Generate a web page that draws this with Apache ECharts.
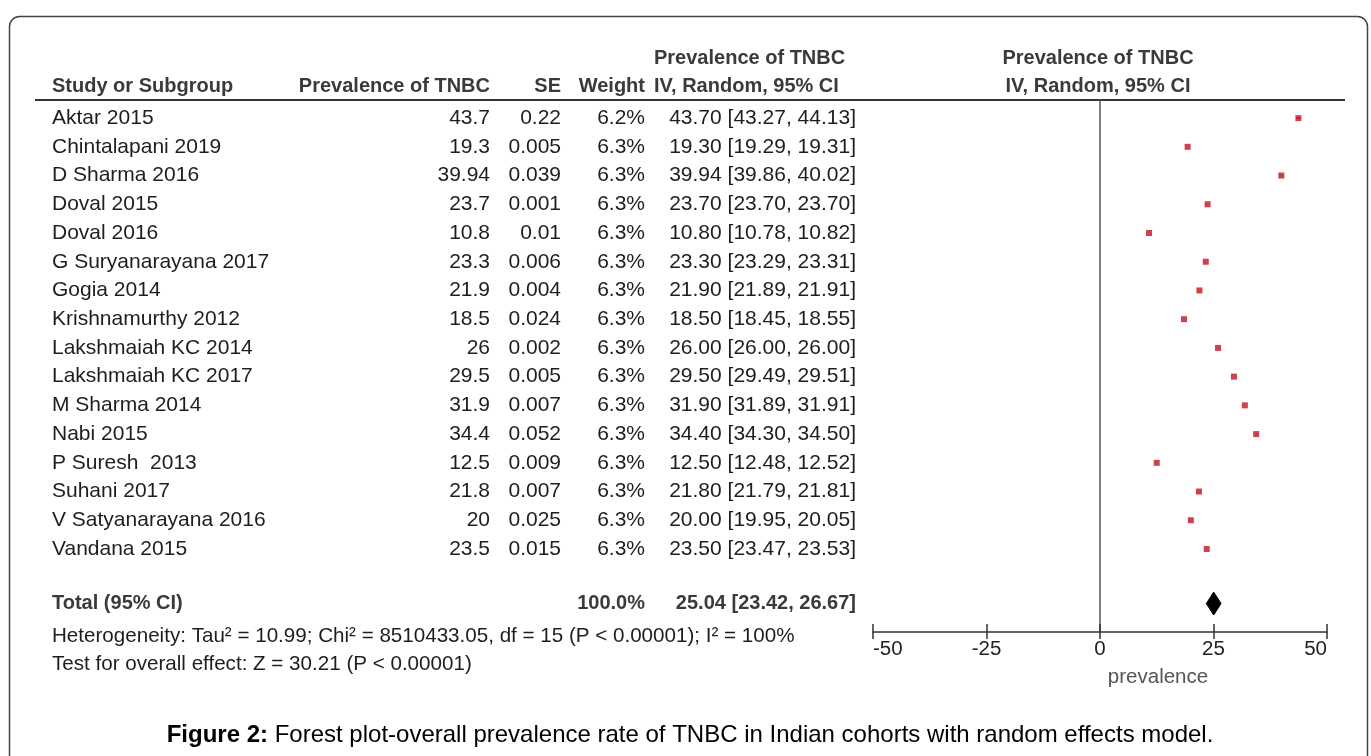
<!DOCTYPE html>
<html>
<head>
<meta charset="utf-8">
<script src="https://cdn.jsdelivr.net/npm/echarts@6/dist/echarts.min.js"></script>
<style>
  html, body { margin: 0; padding: 0; background: #fff; }
  #chart { width: 1371px; height: 756px; }
</style>
</head>
<body>
<div id="chart"></div>
<script>
// Study-level data for the forest plot
const studies = [
  'Aktar 2015', 'Chintalapani 2019', 'D Sharma 2016', 'Doval 2015', 'Doval 2016',
  'G Suryanarayana 2017', 'Gogia 2014', 'Krishnamurthy 2012', 'Lakshmaiah KC 2014',
  'Lakshmaiah KC 2017', 'M Sharma 2014', 'Nabi 2015', 'P Suresh  2013', 'Suhani 2017',
  'V Satyanarayana 2016', 'Vandana 2015'
];
const prevalence = [43.7, 19.3, 39.94, 23.7, 10.8, 23.3, 21.9, 18.5, 26, 29.5, 31.9, 34.4, 12.5, 21.8, 20, 23.5];
const se = ['0.22', '0.005', '0.039', '0.001', '0.01', '0.006', '0.004', '0.024', '0.002', '0.005', '0.007', '0.052', '0.009', '0.007', '0.025', '0.015'];
const weight = [6.2, 6.3, 6.3, 6.3, 6.3, 6.3, 6.3, 6.3, 6.3, 6.3, 6.3, 6.3, 6.3, 6.3, 6.3, 6.3];
const ciLow = [43.27, 19.29, 39.86, 23.70, 10.78, 23.29, 21.89, 18.45, 26.00, 29.49, 31.89, 34.30, 12.48, 21.79, 19.95, 23.47];
const ciHigh = [44.13, 19.31, 40.02, 23.70, 10.82, 23.31, 21.91, 18.55, 26.00, 29.51, 31.91, 34.50, 12.52, 21.81, 20.05, 23.53];

// Pooled (random effects) estimate
const totalWeight = 100.0;
const totalEst = 25.04;
const totalLow = 23.42;
const totalHigh = 26.67;

// Heterogeneity and overall effect statistics
const tau2 = '10.99';
const chi2 = '8510433.05';
const dfVal = 15;
const i2 = 100;
const zVal = '30.21';

// Axis settings
const axisMin = -50, axisMax = 50, axisStep = 25;
const axisName = 'prevalence';

// Layout
const TOTAL_ROW = 16.9;
const FONT = '"Liberation Sans", Arial, Helvetica, sans-serif';
const RED = '#c0141c';
const GRID = { left: 873, right: 44, top: 100, bottom: 124 };
const COL = { name: 52, prev: 490, se: 561, weight: 645, ci: 856, ciHead: 654, plotHead: 1098 };

const chart = echarts.init(document.getElementById('chart'), null, { renderer: 'canvas' });

const xAxisBase = {
  type: 'value', min: axisMin, max: axisMax, interval: axisStep,
  position: 'bottom', splitLine: { show: false }
};

chart.setOption({
  animation: false,
  backgroundColor: '#fff',
  grid: Object.assign({ containLabel: false }, GRID),
  xAxis: [
    Object.assign({}, xAxisBase, {
      axisLine: { show: true, onZero: false, lineStyle: { color: '#333', width: 1.5 } },
      axisTick: { show: true, inside: false, length: 7, lineStyle: { color: '#333', width: 1.5 } },
      axisLabel: {
        show: true, margin: 7, color: '#222', fontSize: 20.5, fontFamily: FONT,
        alignMinLabel: 'left', alignMaxLabel: 'right'
      }
    }),
    Object.assign({}, xAxisBase, {
      axisLine: { show: false, onZero: false },
      axisTick: { show: true, inside: true, length: 8, lineStyle: { color: '#333', width: 1.5 } },
      axisLabel: { show: false }
    })
  ],
  yAxis: {
    type: 'value', inverse: true, min: -0.63, max: 17.89,
    axisLine: { show: true, onZero: true, lineStyle: { color: '#555', width: 1.5 } },
    axisTick: { show: false }, axisLabel: { show: false }, splitLine: { show: false }
  },
  series: [
    {
      // confidence interval whiskers
      type: 'custom',
      data: studies.map((s, i) => [ciLow[i], ciHigh[i], i]),
      renderItem: function (params, api) {
        const a = api.coord([api.value(0), api.value(2)]);
        const b = api.coord([api.value(1), api.value(2)]);
        return { type: 'line', shape: { x1: a[0], y1: a[1], x2: b[0], y2: b[1] },
                 style: { stroke: RED, lineWidth: 1.5 } };
      },
      z: 2
    },
    {
      // point estimates
      type: 'scatter',
      symbol: 'rect',
      symbolSize: 6,
      itemStyle: { color: RED },
      data: studies.map((s, i) => [prevalence[i], i]),
      z: 3
    },
    {
      // pooled estimate diamond
      type: 'custom',
      data: [[totalLow, totalEst, totalHigh, TOTAL_ROW]],
      renderItem: function (params, api) {
        const row = api.value(3);
        const l = api.coord([api.value(0), row]);
        const c = api.coord([api.value(1), row]);
        const r = api.coord([api.value(2), row]);
        const h = 11.5;
        return { type: 'polygon',
                 shape: { points: [[l[0], l[1]], [c[0], c[1] - h], [r[0], r[1]], [c[0], c[1] + h]] },
                 style: { fill: '#000', stroke: '#000', lineWidth: 1 } };
      },
      z: 3
    }
  ]
});

function rowY(i) {
  return chart.convertToPixel({ gridIndex: 0 }, [0, i])[1];
}

function txt(x, y, text, opts) {
  opts = opts || {};
  return {
    type: 'text', x: x, y: y, silent: true,
    style: {
      text: text,
      fontFamily: FONT,
      fontSize: opts.size || 21,
      fontWeight: opts.bold ? 'bold' : 'normal',
      fill: opts.color || '#1e1e1e',
      align: opts.align || 'left',
      verticalAlign: 'middle'
    }
  };
}

const HEAD = { bold: true, size: 20, color: '#3a3a3a' };
const g = [];

// frame and header rule
g.push({ type: 'rect', silent: true,
  shape: { x: 9.5, y: 16.5, width: 1358, height: 790, r: 10 },
  style: { fill: 'none', stroke: '#444', lineWidth: 1.5 } });
g.push({ type: 'line', silent: true,
  shape: { x1: 35, y1: 100, x2: 1345, y2: 100 },
  style: { stroke: '#333', lineWidth: 2 } });

// column headers
g.push(txt(COL.name, 86, 'Study or Subgroup', HEAD));
g.push(txt(COL.prev, 86, 'Prevalence of TNBC', Object.assign({ align: 'right' }, HEAD)));
g.push(txt(COL.se, 86, 'SE', Object.assign({ align: 'right' }, HEAD)));
g.push(txt(COL.weight, 86, 'Weight', Object.assign({ align: 'right' }, HEAD)));
g.push(txt(COL.ciHead, 58, 'Prevalence of TNBC', HEAD));
g.push(txt(COL.ciHead, 86, 'IV, Random, 95% CI', HEAD));
g.push(txt(COL.plotHead, 58, 'Prevalence of TNBC', Object.assign({ align: 'center' }, HEAD)));
g.push(txt(COL.plotHead, 86, 'IV, Random, 95% CI', Object.assign({ align: 'center' }, HEAD)));

// study rows
studies.forEach(function (s, i) {
  const y = rowY(i);
  g.push(txt(COL.name, y, s));
  g.push(txt(COL.prev, y, String(prevalence[i]), { align: 'right' }));
  g.push(txt(COL.se, y, se[i], { align: 'right' }));
  g.push(txt(COL.weight, y, weight[i].toFixed(1) + '%', { align: 'right' }));
  g.push(txt(COL.ci, y, prevalence[i].toFixed(2) + ' [' + ciLow[i].toFixed(2) + ', ' + ciHigh[i].toFixed(2) + ']', { align: 'right' }));
});

// pooled row
const ty = rowY(TOTAL_ROW);
g.push(txt(COL.name, ty, 'Total (95% CI)', HEAD));
g.push(txt(COL.weight, ty, totalWeight.toFixed(1) + '%', Object.assign({ align: 'right' }, HEAD)));
g.push(txt(COL.ci, ty, totalEst.toFixed(2) + ' [' + totalLow.toFixed(2) + ', ' + totalHigh.toFixed(2) + ']', Object.assign({ align: 'right' }, HEAD)));

// statistics
g.push(txt(COL.name, 636, 'Heterogeneity: Tau\u00b2 = ' + tau2 + '; Chi\u00b2 = ' + chi2 + ', df = ' + dfVal + ' (P < 0.00001); I\u00b2 = ' + i2 + '%', { size: 20.6 }));
g.push(txt(COL.name, 664, 'Test for overall effect: Z = ' + zVal + ' (P < 0.00001)', { size: 20.6 }));

// axis title
g.push(txt(1158, 677, axisName, { size: 20.5, color: '#555', align: 'center' }));

// caption
g.push({
  type: 'text', x: 690, y: 735, silent: true,
  style: {
    text: '{b|Figure 2:} Forest plot-overall prevalence rate of TNBC in Indian cohorts with random effects model.',
    fontFamily: FONT, fontSize: 24, fill: '#000', align: 'center', verticalAlign: 'middle',
    rich: { b: { fontWeight: 'bold', fontFamily: FONT, fontSize: 24, fill: '#000' } }
  }
});

chart.setOption({ graphic: g });
</script>
</body>
</html>
